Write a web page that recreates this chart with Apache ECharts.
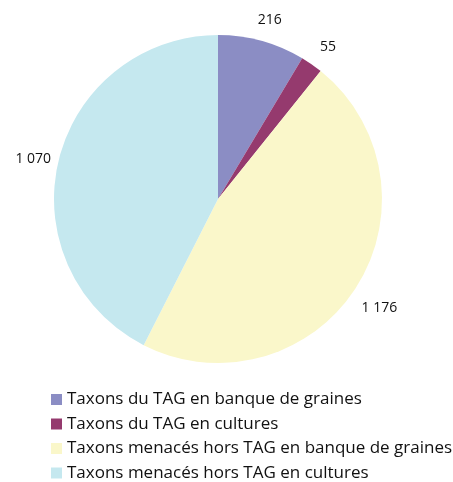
<!DOCTYPE html>
<html>
<head>
<meta charset="utf-8">
<script src="https://cdn.jsdelivr.net/npm/echarts@6/dist/echarts.min.js"></script>
<style>
  html, body { margin: 0; padding: 0; background: #fff; }
  #chart { width: 453px; height: 482px; }
</style>
</head>
<body>
<div id="chart"></div>
<script>
// Répartition des taxons conservés
const categories = [
  'Taxons du TAG en banque de graines',
  'Taxons du TAG en cultures',
  'Taxons menacés hors TAG en banque de graines',
  'Taxons menacés hors TAG en cultures'
];
const values = [216, 55, 1176, 1070];
const colors = ['#8B8DC4', '#953A6E', '#FAF7CA', '#C5E8EF'];

const fmt = v => String(v).replace(/\B(?=(\d{3})+(?!\d))/g, ' ');
const pieData = categories.map((c, i) => ({ name: c, value: values[i] }));

const chart = echarts.init(document.getElementById('chart'), null, { renderer: 'canvas' });
chart.setOption({
  animation: false,
  color: colors,
  legend: {
    orient: 'vertical',
    left: 46,
    top: 386,
    height: 100,
    itemWidth: 11,
    itemHeight: 11,
    itemGap: 7.5,
    icon: 'rect',
    textStyle: { fontFamily: 'Open Sans', fontSize: 17, lineHeight: 17, color: '#111' },
    data: categories
  },
  series: [{
    type: 'pie',
    center: [218, 199],
    radius: 164,
    startAngle: 90,
    clockwise: true,
    data: pieData,
    label: { show: false },
    labelLine: { show: false },
    itemStyle: { borderWidth: 0 },
    emphasis: { disabled: true }
  }, {
    // value labels placed in a transparent ring around the pie
    type: 'pie',
    center: [219, 204],
    radius: [0, 376],
    startAngle: 90,
    clockwise: true,
    silent: true,
    data: pieData,
    itemStyle: { color: 'transparent', borderWidth: 0 },
    label: {
      show: true,
      position: 'inside',
      formatter: p => fmt(p.value),
      fontFamily: 'Open Sans',
      fontSize: 14,
      color: '#111'
    },
    labelLine: { show: false },
    emphasis: { disabled: true }
  }]
});
</script>
</body>
</html>
